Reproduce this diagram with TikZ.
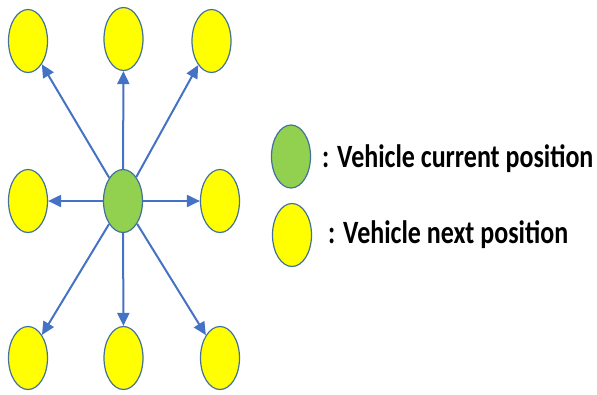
\documentclass[tikz,border=0pt]{standalone}
\usepackage{fontspec}
\setmainfont{Carlito}
\usetikzlibrary{shapes.geometric,arrows.meta}
\definecolor{arrowblue}{HTML}{4472C4}
\definecolor{rimblue}{HTML}{41719C}
\definecolor{vgreen}{HTML}{92D050}
\definecolor{vyellow}{HTML}{FFFF00}
\tikzset{
  spot/.style={ellipse, draw=rimblue, line width=1.2pt, minimum width=39pt, minimum height=63pt, inner sep=0pt},
  cur/.style={spot, fill=vgreen},
  nxt/.style={spot, fill=vyellow},
  move/.style={draw=arrowblue, line width=2pt, -{Triangle[length=13pt,width=12pt]}},
  legtext/.style={font=\bfseries\fontsize{26}{30}\selectfont, inner sep=0pt, anchor=base west}
}
\newcommand{\tallword}[1]{\scalebox{1}[1.25]{#1}}
\begin{document}
\begin{tikzpicture}[x=1pt,y=-1pt]
  \useasboundingbox (0,0) rectangle (597,394);
  % current position and its eight neighbours
  \node[cur] (c)  at (123,201) {};
  \node[nxt] (nw) at (28,41) {};
  \node[nxt] (n)  at (123.5,39) {};
  \node[nxt] (ne) at (211.5,41) {};
  \node[nxt] (w)  at (28,201) {};
  \node[nxt] (e)  at (220,201) {};
  \node[nxt] (sw) at (28,358) {};
  \node[nxt] (s)  at (123.5,358) {};
  \node[nxt] (se) at (220,358) {};
  % possible moves
  \foreach \t in {nw,n,ne,w,e,sw,s,se}
    \draw[move] (c) -- (\t);
  % legend
  \node[cur] (lc) at (291,156.5) {};
  \node[nxt] (ln) at (292,235) {};
  \node[legtext] (t1) at (322,167) {\tallword{: Vehicle current position}};
  \node[legtext] (t2) at (328,243) {\tallword{: Vehicle next position}};
\end{tikzpicture}
\end{document}
